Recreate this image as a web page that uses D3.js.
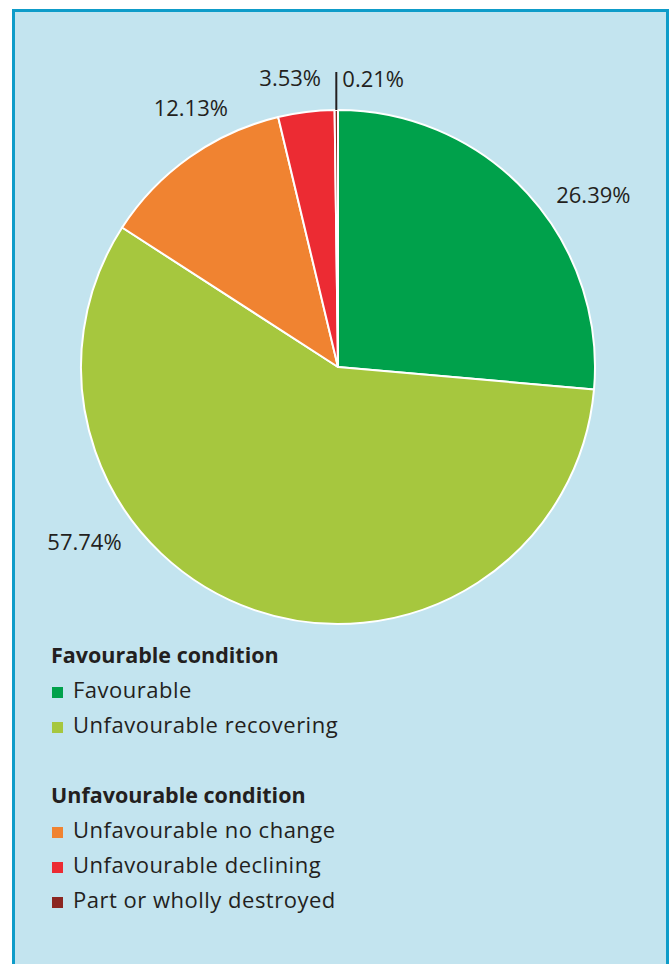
<!DOCTYPE html>
<html>
<head>
<meta charset="utf-8">
<script src="https://cdn.jsdelivr.net/npm/d3@7"></script>
<style>
  html, body { margin: 0; padding: 0; background: #fff; }
  svg { display: block; font-family: "Open Sans", "Noto Sans", sans-serif; }
</style>
</head>
<body>
<div id="chart"></div>
<script>
'use strict';

// data
var categories = ['Favourable', 'Unfavourable recovering', 'Unfavourable no change',
  'Unfavourable declining', 'Part or wholly destroyed'];
var shares = [26.39, 57.74, 12.13, 3.53, 0.21];
var sliceColors = ['#00a14b', '#a6c73e', '#f08331', '#ec2b33', '#8b2621'];
var groupTitles = ['Favourable condition', 'Unfavourable condition'];
var groupMembers = [[0, 1], [2, 3, 4]];

var W = 672, H = 964;
var cx = 338, cy = 367, R = 257;
var ink = '#231f20';

// where each percentage sits: angle (deg, clockwise from 12 o'clock) and radius
var labelSpots = [
  {a: 56, r: 308}, {a: 235.4, r: 308}, {a: 330.4, r: 298}, {a: 350.6, r: 293}, null
];

var svg = d3.select('#chart').append('svg')
  .attr('width', W)
  .attr('height', H);

// panel
svg.append('rect')
  .attr('x', 13.5).attr('y', 10.5)
  .attr('width', 654).attr('height', H + 20)
  .attr('fill', '#c3e4ef')
  .attr('stroke', '#0e9cc9')
  .attr('stroke-width', 3);

var pie = d3.pie().sort(null).value(function (d) { return d; });
var arcs = pie(shares);
var arc = d3.arc().innerRadius(0).outerRadius(R);

var g = svg.append('g').attr('transform', 'translate(' + cx + ',' + cy + ')');

g.selectAll('path.slice')
  .data(arcs)
  .enter().append('path')
  .attr('class', 'slice')
  .attr('d', arc)
  .attr('fill', function (d, i) { return sliceColors[i]; })
  .attr('stroke', '#fff')
  .attr('stroke-width', 2)
  .attr('stroke-linejoin', 'round');

function fmt(v) { return v.toFixed(2) + '%'; }

// labels for the bigger slices
arcs.forEach(function (d, i) {
  var s = labelSpots[i];
  if (!s) return;
  var t = s.a * Math.PI / 180;
  g.append('text')
    .attr('x', s.r * Math.sin(t))
    .attr('y', -s.r * Math.cos(t))
    .attr('dy', '0.36em')
    .attr('text-anchor', 'middle')
    .attr('font-size', 22)
    .attr('fill', ink)
    .text(fmt(d.data));
});

// tiny slice gets a leader line
var last = arcs[arcs.length - 1];
var mid = (last.startAngle + last.endAngle) / 2;
var lx = R * Math.sin(mid);
g.append('line')
  .attr('x1', lx).attr('x2', lx)
  .attr('y1', -R * Math.cos(mid))
  .attr('y2', -R - 38)
  .attr('stroke', ink)
  .attr('stroke-width', 2);
g.append('text')
  .attr('x', lx + 6)
  .attr('y', -R - 23)
  .attr('font-size', 22)
  .attr('fill', ink)
  .text(fmt(last.data));

// legend
var legend = svg.append('g').attr('transform', 'translate(51,0)');
var y = 663;
groupTitles.forEach(function (title, gi) {
  legend.append('text')
    .attr('x', 0).attr('y', y)
    .attr('font-size', 21.5)
    .attr('font-weight', 'bold')
    .attr('fill', ink)
    .text(title);
  groupMembers[gi].forEach(function (k) {
    y += 35;
    legend.append('rect')
      .attr('x', 1).attr('y', y - 11)
      .attr('width', 11).attr('height', 11)
      .attr('fill', sliceColors[k]);
    legend.append('text')
      .attr('x', 22).attr('y', y)
      .attr('font-size', 22)
      .attr('letter-spacing', 0.5)
      .attr('fill', ink)
      .text(categories[k]);
  });
  y += 70;
});
</script>
</body>
</html>
